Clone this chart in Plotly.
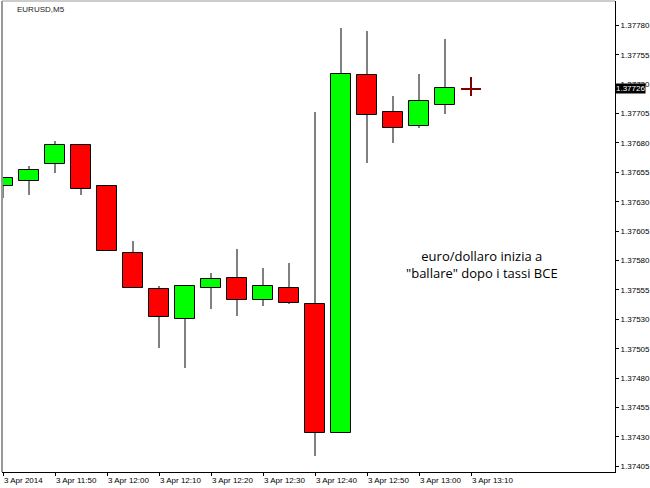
import plotly.graph_objects as go

times = ["11:40", "11:45", "11:50", "11:55", "12:00", "12:05", "12:10", "12:15", "12:20", "12:25",
         "12:30", "12:35", "12:40", "12:45", "12:50", "12:55", "13:00", "13:05", "13:10"]
opens = [1.37643, 1.37648, 1.37662, 1.37678, 1.37643, 1.37586, 1.37556, 1.37530, 1.37557, 1.37565,
         1.37546, 1.37557, 1.37543, 1.37433, 1.37738, 1.37706, 1.37694, 1.37712, 1.37726]
highs = [1.37651, 1.37660, 1.37682, 1.37679, 1.37644, 1.37597, 1.37558, 1.37558, 1.37569, 1.37590,
         1.37574, 1.37578, 1.37706, 1.37778, 1.37775, 1.37720, 1.37739, 1.37768, 1.37736]
lows = [1.37633, 1.37636, 1.37654, 1.37636, 1.37588, 1.37557, 1.37506, 1.37489, 1.37539, 1.37533,
        1.37541, 1.37543, 1.37414, 1.37433, 1.37663, 1.37680, 1.37693, 1.37705, 1.37720]
closes = [1.37650, 1.37657, 1.37678, 1.37641, 1.37588, 1.37557, 1.37532, 1.37558, 1.37564, 1.37546,
          1.37558, 1.37544, 1.37433, 1.37739, 1.37704, 1.37693, 1.37716, 1.37727, 1.37726]

tick_idx = [0, 2, 4, 6, 8, 10, 12, 14, 16, 18]
tick_labels = ["3 Apr 2014", "3 Apr 11:50", "3 Apr 12:00", "3 Apr 12:10", "3 Apr 12:20",
               "3 Apr 12:30", "3 Apr 12:40", "3 Apr 12:50", "3 Apr 13:00", "3 Apr 13:10"]
price_ticks = [1.37405 + 0.00025 * k for k in range(16)]
current_price = 1.37726
symbol = "EURUSD,M5"
note = "euro/dollaro inizia a<br>\"ballare\" dopo i tassi BCE"

UP, DOWN, DOJI, WICK = "#00FF00", "#FF0000", "#800000", "#808080"
DOJI_H = 0.000018

x = list(range(len(times)))
body_base, body_h, body_col, body_line, body_lw, wick_col = [], [], [], [], [], []
for o, c in zip(opens, closes):
    if abs(c - o) < 1e-9:
        body_base.append(o - DOJI_H / 2)
        body_h.append(DOJI_H)
        body_col.append(DOJI)
        body_line.append(DOJI)
        body_lw.append(0)
        wick_col.append(DOJI)
    else:
        body_base.append(min(o, c))
        body_h.append(abs(c - o))
        body_col.append(UP if c > o else DOWN)
        body_line.append("#000000")
        body_lw.append(1)
        wick_col.append(WICK)

fig = go.Figure()
fig.add_trace(go.Bar(
    x=x, base=lows, y=[h - l for h, l in zip(highs, lows)], width=0.04,
    marker=dict(color=wick_col, line=dict(width=0)), hoverinfo="skip", showlegend=False))
fig.add_trace(go.Bar(
    x=x, base=body_base, y=body_h, width=0.74,
    marker=dict(color=body_col, line=dict(color=body_line, width=body_lw)),
    showlegend=False))

px_per_unit = 26.0
plot_w = 613.0
x0 = -1.0 / px_per_unit
fig.update_layout(
    width=650, height=488,
    margin=dict(l=2, r=35, t=1, b=16, autoexpand=False),
    paper_bgcolor="white", plot_bgcolor="white",
    barmode="overlay", bargap=0,
    font=dict(family="Liberation Sans", size=8, color="black"),
    xaxis=dict(range=[x0, x0 + plot_w / px_per_unit], showgrid=False, zeroline=False,
               showline=True, linecolor="black", linewidth=1,
               tickmode="array", tickvals=tick_idx, ticktext=tick_labels,
               ticks="outside", ticklen=3, tickcolor="black",
               ticklabelposition="outside right",
               tickfont=dict(family="Liberation Sans", size=8, color="black")),
    yaxis=dict(range=[1.3740015, 1.3780066], side="right", showgrid=False, zeroline=False,
               showline=True, linecolor="black", linewidth=1,
               tickmode="array", tickvals=price_ticks, tickformat=".5f",
               ticks="outside", ticklen=3, tickcolor="black",
               tickfont=dict(family="Liberation Sans", size=8, color="black")),
    shapes=[
        dict(type="line", xref="paper", yref="paper", x0=0, x1=0, y0=0, y1=1,
             line=dict(color="#999999", width=2)),
        dict(type="line", xref="paper", yref="paper", x0=0, x1=1, y0=1, y1=1,
             line=dict(color="#999999", width=1)),
    ],
    annotations=[
        dict(text=symbol, xref="paper", yref="paper", x=0.021, y=0.983,
             xanchor="left", yanchor="middle", showarrow=False,
             font=dict(family="Liberation Sans", size=8, color="#222222")),
        dict(text=note, xref="paper", yref="paper", x=0.783, y=0.4395,
             xanchor="center", yanchor="middle", showarrow=False, align="center",
             font=dict(family="Open Sans", size=13, color="black")),
        dict(text=f"{current_price:.5f}", xref="paper", yref="y", x=1.0, y=current_price,
             xanchor="left", yanchor="middle", showarrow=False, bgcolor="black",
             borderpad=0, font=dict(family="Liberation Sans", size=8, color="white")),
    ],
)

fig.write_html("out.html", config={"displayModeBar": False},
               post_script="document.body.style.margin='0';")
